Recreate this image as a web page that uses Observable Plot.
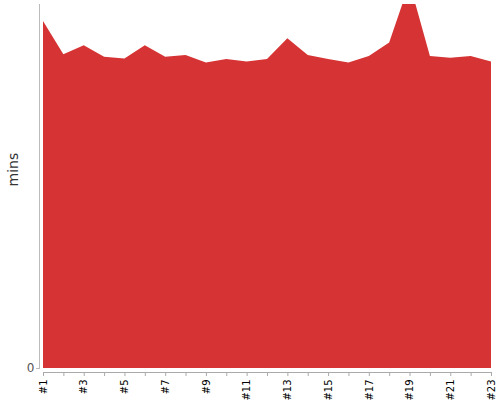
<!DOCTYPE html>
<html>
<head>
<meta charset="utf-8">
<script src="https://cdn.jsdelivr.net/npm/d3@7"></script>
<script src="https://cdn.jsdelivr.net/npm/@observablehq/plot@0.6"></script>
<style>
  html, body { margin: 0; padding: 0; background: #fff; }
  #chart svg { display: block; }
</style>
</head>
<body>
<div id="chart"></div>
<script>
const labels = ["#1","#2","#3","#4","#5","#6","#7","#8","#9","#10","#11","#12","#13","#14","#15","#16","#17","#18","#19","#20","#21","#22","#23"];
const mins = [95.3, 86.2, 88.7, 85.5, 85.0, 88.7, 85.5, 86.0, 83.9, 84.9, 84.2, 84.9, 90.6, 86.0, 84.9, 83.9, 85.7, 89.4, 105.8, 85.7, 85.2, 85.7, 84.2];
const yTicks = [0];
const yMax = 100;

const data = labels.map((l, i) => ({label: l, value: mins[i]}));

const chart = Plot.plot({
  width: 500,
  height: 400,
  marginLeft: 43,
  marginRight: 9,
  marginTop: 4,
  marginBottom: 32,
  style: {fontFamily: "DejaVu Sans, sans-serif", background: "#fff"},
  x: {type: "point", domain: labels, padding: 0, round: false},
  y: {domain: [0, yMax]},
  marks: [
    Plot.areaY(data, {x: "label", y: "value", fill: "#d63434", clip: true}),
    Plot.frame({anchor: "left", dx: -4, stroke: "#bbb"}),
    Plot.axisY({ticks: yTicks, tickSize: 3, dx: -4, tickPadding: 2, label: null, fontSize: 12, fill: "#555", stroke: "#bbb"}),
    Plot.axisX({
      tickSize: 4,
      dy: 4,
      stroke: "#aaa",
      tickRotate: -90,
      fontSize: 10,
      fill: "#000",
      tickPadding: 3,
      label: null,
      tickFormat: (d) => (labels.indexOf(d) % 2 === 0 ? d : "")
    }),
    Plot.ruleY([0], {dy: 4, stroke: "#aaa"}),
    Plot.text(["mins"], {frameAnchor: "left", dx: -30, rotate: -90, fontSize: 14, fill: "#333"})
  ]
});
document.getElementById("chart").appendChild(chart);
</script>
</body>
</html>
